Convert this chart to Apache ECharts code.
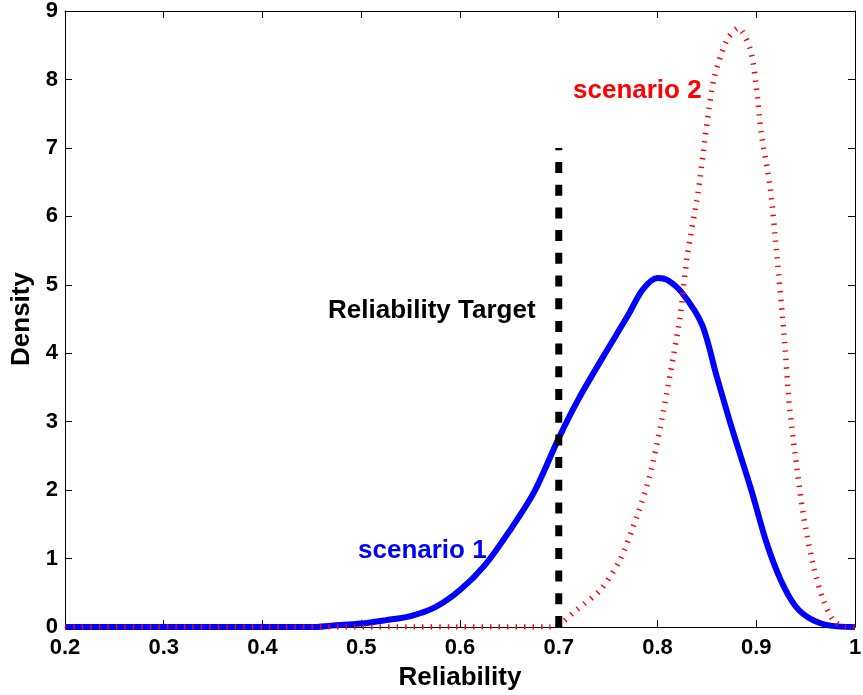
<!DOCTYPE html>
<html>
<head>
<meta charset="utf-8">
<script src="https://cdn.jsdelivr.net/npm/echarts@6/dist/echarts.min.js"></script>
<style>
html,body{margin:0;padding:0;background:#fff;}
#chart{width:863px;height:695px;}
</style>
</head>
<body>
<div id="chart"></div>
<script>
// ---- Data ----
var scenario1X = [0.2, 0.45, 0.47, 0.50, 0.525, 0.55, 0.575, 0.60, 0.625, 0.65, 0.675, 0.70, 0.72, 0.745, 0.77, 0.785, 0.80, 0.81, 0.825, 0.845, 0.86, 0.875, 0.895, 0.91, 0.925, 0.94, 0.955, 0.975, 1.0];
var scenario1Y = [0, 0, 0.02, 0.05, 0.10, 0.16, 0.29, 0.54, 0.90, 1.40, 1.97, 2.76, 3.33, 3.95, 4.55, 4.93, 5.10, 5.07, 4.88, 4.42, 3.66, 2.92, 2.00, 1.25, 0.68, 0.30, 0.12, 0.02, 0];
var scenario2X = [0.2, 0.69, 0.70, 0.718, 0.742, 0.762, 0.779, 0.792, 0.803, 0.813, 0.823, 0.830, 0.841, 0.848, 0.852, 0.857, 0.865, 0.872, 0.882, 0.894, 0.900, 0.905, 0.914, 0.921, 0.928, 0.934, 0.941, 0.948, 0.958, 0.968, 0.978, 0.99, 1.0];
var scenario2Y = [0, 0, 0.03, 0.25, 0.54, 0.98, 1.61, 2.20, 2.93, 3.71, 4.54, 5.41, 6.34, 7.12, 7.56, 8.00, 8.39, 8.62, 8.75, 8.44, 7.90, 7.22, 6.44, 5.41, 4.29, 3.17, 2.34, 1.61, 0.88, 0.39, 0.10, 0, 0];
var targetX = [0.7, 0.7];
var targetY = [0, 7];
var xTicks = {min: 0.2, max: 1.0, step: 0.1};
var yTicks = {min: 0, max: 9, step: 1};
var xAxisName = 'Reliability';
var yAxisName = 'Density';
var label1 = 'scenario 1';
var label2 = 'scenario 2';
var labelTarget = 'Reliability Target';

function pairs(xs, ys){ return xs.map(function(x,i){ return [x, ys[i]]; }); }

var FONT = '"Liberation Sans", Arial, Helvetica, sans-serif';
var chart = echarts.init(document.getElementById('chart'), null, {renderer:'canvas'});

var axisCommon = {
  type: 'value',
  axisLine: {show: true, onZero: false, lineStyle: {color: '#000', width: 1}},
  axisTick: {show: true, inside: true, length: 7, lineStyle: {color: '#000', width: 1}},
  splitLine: {show: false}
};

var option = {
  backgroundColor: '#fff',
  animation: false,
  grid: {left: 65, right: 8, top: 11, bottom: 68, containLabel: false, outerBoundsMode: 'none'},
  xAxis: [
    Object.assign({}, axisCommon, {
      position: 'bottom', min: xTicks.min, max: xTicks.max, interval: xTicks.step,
      name: xAxisName, nameLocation: 'middle', nameGap: 38,
      nameTextStyle: {fontFamily: FONT, fontWeight: 'bold', fontSize: 26, color: '#000'},
      axisLabel: {margin: 10, fontFamily: FONT, fontWeight: 'bold', fontSize: 22, color: '#000',
        formatter: function(v){ return String(Math.round(v*10)/10); }}
    }),
    Object.assign({}, axisCommon, {
      position: 'top', min: xTicks.min, max: xTicks.max, interval: xTicks.step,
      axisLabel: {show: false}
    })
  ],
  yAxis: [
    Object.assign({}, axisCommon, {
      position: 'left', min: yTicks.min, max: yTicks.max, interval: yTicks.step,
      name: yAxisName, nameLocation: 'middle', nameGap: 25, nameRotate: 90,
      nameTextStyle: {fontFamily: FONT, fontWeight: 'bold', fontSize: 26, color: '#000'},
      axisLabel: {margin: 7, fontFamily: FONT, fontWeight: 'bold', fontSize: 22, color: '#000'}
    }),
    Object.assign({}, axisCommon, {
      position: 'right', min: yTicks.min, max: yTicks.max, interval: yTicks.step,
      axisLabel: {show: false}
    })
  ],
  series: [
    {
      name: label1, type: 'line', xAxisIndex: 0, yAxisIndex: 0,
      data: pairs(scenario1X, scenario1Y), showSymbol: false, smooth: 0.3, z: 2,
      lineStyle: {color: '#0000ff', width: 6, cap: 'butt', join: 'round'}
    },
    {
      name: label2, type: 'line', xAxisIndex: 0, yAxisIndex: 0,
      data: pairs(scenario2X, scenario2Y), showSymbol: false, smooth: 0.25, z: 3,
      lineStyle: {color: '#ff0000', width: 5.5, type: [1.4, 7.1], cap: 'butt'}
    },
    {
      name: labelTarget, type: 'line', xAxisIndex: 0, yAxisIndex: 0,
      data: pairs(targetX, targetY), showSymbol: false, z: 4,
      lineStyle: {color: '#000', width: 7, type: [11, 11.7], cap: 'butt'}
    }
  ],
  graphic: [
    {type: 'text', left: 573, top: 78, z: 10,
      style: {text: label2, fill: '#ff0000', font: 'bold 26px ' + FONT}},
    {type: 'text', left: 358, top: 538, z: 10,
      style: {text: label1, fill: '#0000ff', font: 'bold 26px ' + FONT}},
    {type: 'text', left: 328, top: 298, z: 10,
      style: {text: labelTarget, fill: '#000', font: 'bold 26px ' + FONT}}
  ]
};
chart.setOption(option);
</script>
</body>
</html>
